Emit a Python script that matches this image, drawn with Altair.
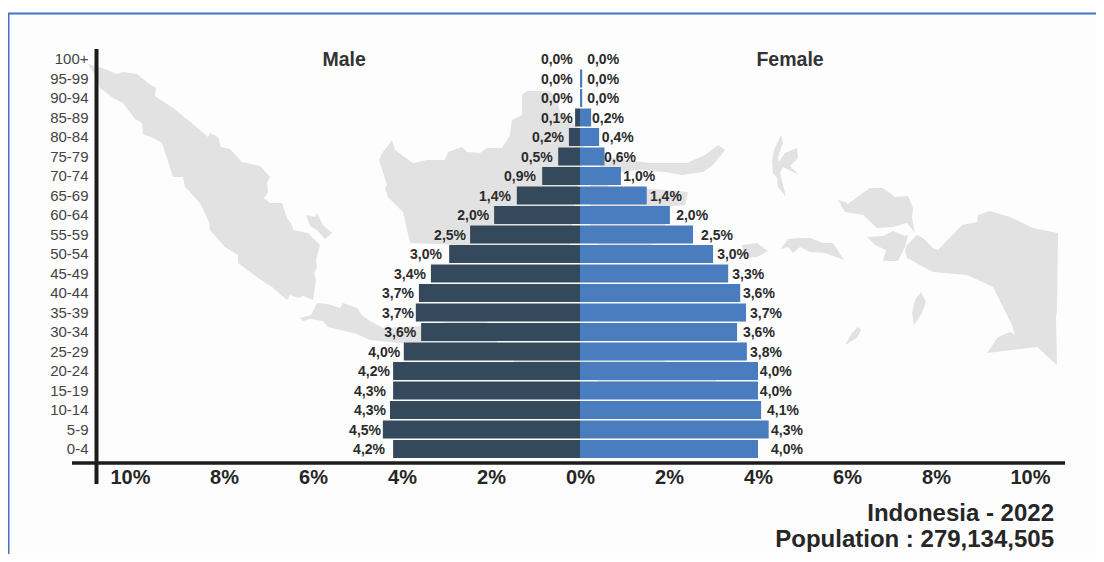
import altair as alt
import pandas as pd

ages = ["100+", "95-99", "90-94", "85-89", "80-84", "75-79", "70-74", "65-69", "60-64", "55-59", "50-54",
        "45-49", "40-44", "35-39", "30-34", "25-29", "20-24", "15-19", "10-14", "5-9", "0-4"]
male_pct = [0, 0, 0, 0.11, 0.25, 0.49, 0.85, 1.42, 1.93, 2.47, 2.94, 3.35, 3.62, 3.69, 3.57, 3.96, 4.2, 4.2, 4.27, 4.43, 4.2]
female_pct = [0, 0.05, 0.05, 0.25, 0.43, 0.55, 0.92, 1.5, 2.02, 2.54, 2.99, 3.33, 3.6, 3.73, 3.53, 3.75, 4.0, 4.0, 4.07, 4.24, 4.0]
male_text = ["0,0%", "0,0%", "0,0%", "0,1%", "0,2%", "0,5%", "0,9%", "1,4%", "2,0%", "2,5%", "3,0%",
             "3,4%", "3,7%", "3,7%", "3,6%", "4,0%", "4,2%", "4,3%", "4,3%", "4,5%", "4,2%"]
female_text = ["0,0%", "0,0%", "0,0%", "0,2%", "0,4%", "0,6%", "1,0%", "1,4%", "2,0%", "2,5%", "3,0%",
               "3,3%", "3,6%", "3,7%", "3,6%", "3,8%", "4,0%", "4,0%", "4,1%", "4,3%", "4,0%"]
# where each percentage label sits along the percent axis
male_label_at = [0.52, 0.52, 0.52, 0.52, 0.72, 0.97, 1.35, 1.91, 2.40, 2.92, 3.46, 3.82, 4.09, 4.09, 4.04, 4.40, 4.63, 4.72, 4.72, 4.83, 4.74]
female_label_at = [0.52, 0.52, 0.52, 0.63, 0.85, 0.90, 1.33, 1.93, 2.52, 3.08, 3.44, 3.78, 4.02, 4.18, 4.02, 4.18, 4.40, 4.40, 4.56, 4.65, 4.65]
sex_titles = ["Male", "Female"]
sex_title_at = [-5.3, 4.72]
caption = ["Indonesia - 2022", "Population : 279,134,505"]
tick_values = [-10, -8, -6, -4, -2, 0, 2, 4, 6, 8, 10]

# background map outlines (map units)
sumatra = [(88,64),(102,68),(117,74),(123,72),(137,74),(148,83),(156,88),(155,96),(173,108),(188,120),(208,137),(210,133),(218,137),(221,147),(230,149),(242,162),(260,166),(270,177),(267,183),(268,192),(264,198),(270,203),(282,203),(287,218),(292,225),(293,230),(308,233),(320,245),(316,260),(317,267),(314,273),(316,280),(313,300),(303,296),(298,298),(290,295),(287,300),(272,287),(258,278),(238,263),(238,255),(225,247),(210,230),(209,222),(200,203),(185,187),(183,177),(173,177),(162,143),(153,138),(143,134),(142,123),(135,119),(123,103),(113,98),(100,88),(97,78)]
bangka = [(306,215),(315,217),(317,213),(323,225),(332,233),(325,239),(317,230),(310,226)]
java = [(300,318),(311,315),(317,303),(328,304),(340,308),(343,303),(357,308),(362,315),(370,321),(383,328),(420,326),(446,322),(487,322),(498,340),(496,345),(440,345),(400,343),(370,340),(357,334),(340,330),(328,327),(323,321),(310,319),(303,321)]
sunda = [(514,359),(660,359),(716,378),(716,385),(600,385),(590,366),(514,366)]
kalimantan = [(379,160),(383,152),(392,140),(395,150),(413,163),(427,160),(445,160),(448,152),(462,147),(467,152),(480,153),(487,148),(502,148),(510,135),(512,120),(522,115),(522,95),(527,91),(550,91),(557,100),(560,112),(575,125),(580,130),(585,150),(575,200),(570,245),(460,245),(410,243),(403,212),(388,197),(385,188),(387,185)]
sulawesi_n = [(600,155),(613,158),(650,163),(687,163),(705,155),(718,145),(725,150),(713,165),(703,172),(682,175),(665,172),(640,170),(620,172),(600,172)]
sulawesi_s = [(590,172),(620,172),(607,187),(667,190),(688,192),(685,205),(665,207),(665,240),(620,255),(590,240)]
seram_w = [(742,245),(757,243),(768,251),(757,257),(745,258)]
halmahera = [(781,135),(783,143),(778,157),(779,162),(785,153),(797,148),(798,158),(790,166),(799,175),(783,167),(780,173),(786,197),(778,187),(777,178),(773,173),(772,162),(774,150)]
seram = [(781,249),(785,243),(788,239),(800,238),(810,238),(823,243),(833,243),(844,260),(825,253),(810,252),(800,247),(793,253),(788,247)]
birdshead = [(838,200),(845,202),(848,204),(857,197),(870,188),(883,188),(895,197),(908,196),(913,208),(912,218),(915,233),(907,223),(893,227),(877,228),(863,215),(845,212)]
bomberai = [(867,237),(883,236),(893,231),(905,236),(908,235),(905,247),(898,261),(883,261),(886,250),(875,245)]
papua = [(907,245),(917,235),(923,238),(933,248),(938,250),(962,225),(977,222),(978,215),(990,211),(1010,217),(1033,228),(1058,233),(1057,310),(1056,317),(1057,365),(1037,347),(987,353),(998,337),(1010,332),(1015,335),(1012,325),(993,287),(967,275),(933,272),(907,258),(905,250)]
aru = [(921,292),(926,302),(922,313),(914,325),(912,313),(915,300)]
tanimbar = [(858,327),(861,330),(857,338),(845,345),(852,333)]
islands = [sumatra, bangka, java, sunda, kalimantan, sulawesi_n, sulawesi_s, seram_w, halmahera, seram, birdshead, bomberai, papua, aru, tanimbar]

W, H = 1088, 546
ZERO_PX, PX_PER_PCT = 572, 44.5
FONT = "Liberation Sans"
MALE, FEMALE = "#34495c", "#4a7dc0"

map_df = pd.DataFrame([
    {"island": k, "i": i, "mx": p[0], "my": p[1]}
    for k, isl in enumerate(islands) for i, p in enumerate(isl)
])
map_layer = alt.Chart(map_df).mark_line(fill="#e2e2e2", strokeWidth=0, stroke="#e2e2e2").encode(
    x=alt.X("mx:Q", scale=alt.Scale(domain=[8, 8 + W], nice=False, zero=False), axis=None),
    y=alt.Y("my:Q", scale=alt.Scale(domain=[8 + H, 8], nice=False, zero=False), axis=None),
    detail="island:N",
    order="i:Q",
)

bars_df = pd.DataFrame({
    "age": ages * 2,
    "sex": ["Male"] * len(ages) + ["Female"] * len(ages),
    "value": [-v for v in male_pct] + female_pct,
    "zero": [0] * (2 * len(ages)),
    "label": male_text + female_text,
    "label_at": [-v for v in male_label_at] + female_label_at,
})

x_scale = alt.Scale(domain=[-ZERO_PX / PX_PER_PCT, (W - ZERO_PX) / PX_PER_PCT], nice=False, zero=False)
y_scale = alt.Scale(domain=ages, range=[41.25, 450.75], paddingInner=0, paddingOuter=0)

x_axis = alt.Axis(
    values=tick_values, labelExpr="abs(datum.value) + '%'", title=None, grid=False, domain=False, ticks=False,
    offset=-(H - 459), labelPadding=0, labelFont=FONT, labelFontSize=20, labelFontWeight="bold", labelColor="#262626",
    labelFlush=False, labelOverlap=False,
    labelOffset={"condition": [{"test": "datum.value == 10", "value": 5}, {"test": "datum.value == -10", "value": -5}], "value": 0},
)
y_axis = alt.Axis(
    title=None, grid=False, domain=False, ticks=False, offset=-80, labelPadding=0, labelFont=FONT, labelFontSize=15,
    labelColor="#444444", labelOverlap=False,
)

bars = alt.Chart(bars_df).mark_bar(size=18).encode(
    x=alt.X("value:Q", scale=x_scale, axis=x_axis),
    x2="zero:Q",
    y=alt.Y("age:N", scale=y_scale, axis=y_axis, sort=ages),
    color=alt.Color("sex:N", scale=alt.Scale(domain=sex_titles, range=[MALE, FEMALE]), legend=None),
)
labels = alt.Chart(bars_df).mark_text(font=FONT, fontSize=14, fontWeight="bold", color="#2b2b2b", align="center", dy=1).encode(
    x=alt.X("label_at:Q", scale=x_scale),
    y=alt.Y("age:N", scale=y_scale, sort=ages),
    text="label:N",
)
titles = alt.Chart(pd.DataFrame({"t": sex_titles, "at": sex_title_at})).mark_text(
    font=FONT, fontSize=19.5, fontWeight="bold", color="#333333", align="center").encode(
    x=alt.X("at:Q", scale=x_scale), y=alt.value(52), text="t:N")

one = pd.DataFrame({"a": [0]})
y_line = alt.Chart(one).mark_rule(color="#1c1c1c", strokeWidth=4).encode(
    x=alt.value(88.5), y=alt.value(41), y2=alt.value(476))
x_line = alt.Chart(one).mark_rule(color="#1c1c1c", strokeWidth=3.5).encode(
    x=alt.value(64), x2=alt.value(1057), y=alt.value(455))
frame_left = alt.Chart(one).mark_rule(color="#4472c4", strokeWidth=2).encode(
    x=alt.value(0.5), y=alt.value(5), y2=alt.value(H))
frame_top = alt.Chart(one).mark_rule(color="#4472c4", strokeWidth=2).encode(
    x=alt.value(0), x2=alt.value(W), y=alt.value(5.5))
cap1 = alt.Chart(pd.DataFrame({"t": [caption[0]]})).mark_text(
    font=FONT, fontSize=24, fontWeight="bold", color="#262626", align="right").encode(
    x=alt.value(1046), y=alt.value(506), text="t:N")
cap2 = alt.Chart(pd.DataFrame({"t": [caption[1]]})).mark_text(
    font=FONT, fontSize=24, fontWeight="bold", color="#262626", align="right").encode(
    x=alt.value(1046), y=alt.value(532), text="t:N")

front = alt.layer(bars, labels, titles, y_line, x_line, frame_left, frame_top, cap1, cap2)
chart = alt.layer(map_layer, front).resolve_scale(x="independent", y="independent").properties(
    width=W, height=H, background="#fdfdfd", padding=0, autosize=alt.AutoSizeParams(type="none"),
).configure_view(stroke=None)

chart.save("out.html", embed_options={"renderer": "svg", "actions": False})
